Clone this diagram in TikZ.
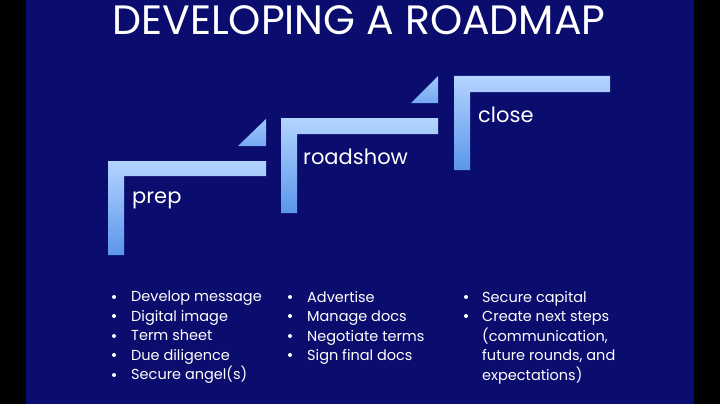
\documentclass[tikz,border=0pt]{standalone}
\usepackage{fontspec}
\setmainfont{Poppins}
\begin{document}
\begin{tikzpicture}[x=1pt,y=-1pt,
  bar/.style={top color=lb1,bottom color=lb2,draw=none},
  tri/.style={top color=lb1!80!lb2,bottom color=lb2!70!lb1,draw=none},
  lab/.style={text=white,font=\fontsize{21}{24}\selectfont,anchor=west,inner sep=0},
  item/.style={text=white,font=\fontsize{14.5}{19.5}\selectfont,anchor=north west,inner sep=0,align=left},
  dot/.style={circle,fill=white,inner sep=0,minimum size=4pt}]
\definecolor{bg}{HTML}{0A0C6E}
\definecolor{lb1}{HTML}{B4D4FF}
\definecolor{lb2}{HTML}{5A96EA}
\useasboundingbox (0,0) rectangle (720,404);
\fill[black] (0,0) rectangle (720,404);
\fill[bg] (26,0) rectangle (694,404);
\node[text=white,font=\fontsize{41}{44}\selectfont,inner sep=0] (title) at (359,20) {DEVELOPING A ROADMAP};
% step shapes
\shade[bar] (108,161) -- (266,161) -- (266,176) -- (124,176) -- (124,255) -- (108,255) -- cycle;
\shade[tri] (238,146) -- (266,146) -- (266,119) -- cycle;
\shade[bar] (281,118) -- (438,118) -- (438,134) -- (297,134) -- (297,213) -- (281,213) -- cycle;
\shade[tri] (411,103) -- (438,103) -- (438,76) -- cycle;
\shade[bar] (454,76) -- (610,76) -- (610,92) -- (470,92) -- (470,170) -- (454,170) -- cycle;
\node[lab] (prep) at (132,200) {prep};
\node[lab] (road) at (303,157) {roadshow};
\node[lab] (close) at (478,115) {close};
% lists
\node[item] (l1) at (131,291) {Develop message\\Digital image\\Term sheet\\Due diligence\\Secure angel(s)};
\node[item] (l2) at (307,291) {Advertise\\Manage docs\\Negotiate terms\\Sign final docs};
\node[item] (l3) at (482,291) {Secure capital\\Create next steps\\(communication,\\future rounds, and\\expectations)};
\foreach \y in {297,316,336,355,375} \node[dot] at (114,\y) {};
\foreach \y in {297,316,336,355} \node[dot] at (290,\y) {};
\foreach \y in {297,316} \node[dot] at (466,\y) {};
\end{tikzpicture}
\end{document}
